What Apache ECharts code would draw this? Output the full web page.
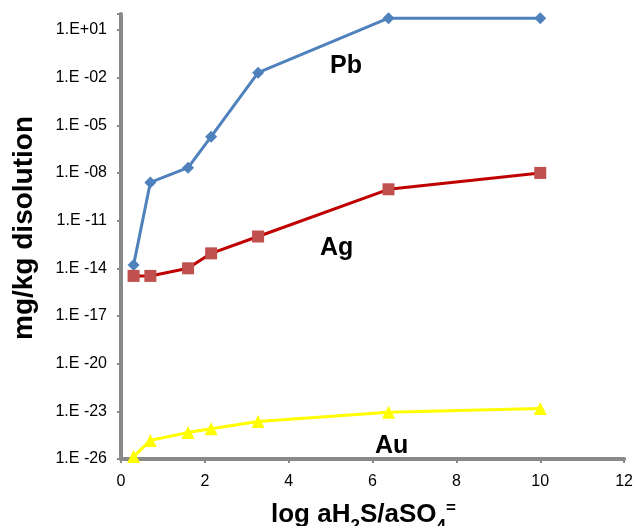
<!DOCTYPE html>
<html>
<head>
<meta charset="utf-8">
<script src="https://cdn.jsdelivr.net/npm/echarts@6/dist/echarts.min.js"></script>
<style>
	html, body { margin: 0; padding: 0; background: #fff; }
	#chart { width: 636px; height: 526px; }
</style>
</head>
<body>
<div id="chart"></div>
<script>
	// x = log aH2S/aSO4
	const xVals = [0.3, 0.7, 1.6, 2.15, 3.27, 6.38, 10]
	// mg/kg disolution, read as powers of ten (1.E-14 -> -14)
	const pbExp = [-13.8, -8.6, -7.67, -5.72, -1.69, 1.74, 1.74]
	const agExp = [-14.48, -14.48, -14.0, -13.06, -12.0, -9.03, -8.0]
	const auExp = [-25.85, -24.83, -24.33, -24.1, -23.64, -23.06, -22.83]

	const toPairs = (ys) => xVals.map((x, i) => [x, ys[i]])

	const fmtY = (v) => {
		const e = Math.round(v)
		if (e > 1) return ''
		const n = String(Math.abs(e)).padStart(2, '0')
		return e >= 0 ? '1.E+' + n : '1.E -' + n
	}

	const axisGrey = '#898989'
	const font = 'Liberation Sans, Arial, Helvetica, sans-serif'

	const option = {
		animation: false,
		grid: { left: 121, right: 11, top: 14, bottom: 67 },
		xAxis: {
			type: 'value',
			min: 0,
			max: 12,
			interval: 2,
			axisLine: { onZero: false, lineStyle: { color: axisGrey, width: 4 } },
			axisTick: { show: true, length: 4, lineStyle: { color: axisGrey, width: 2 } },
			splitLine: { show: false },
			axisLabel: { color: '#000', fontSize: 16, fontFamily: font, margin: 15 }
		},
		yAxis: {
			type: 'value',
			min: -26,
			max: 2,
			interval: 3,
			axisLine: { show: true, onZero: false, lineStyle: { color: axisGrey, width: 4 } },
			axisTick: { show: true, length: 4, lineStyle: { color: axisGrey, width: 2 } },
			splitLine: { show: false },
			axisLabel: { color: '#000', fontSize: 16, fontFamily: font, margin: 14, formatter: fmtY }
		},
		series: [
			{
				name: 'Pb',
				type: 'line',
				data: toPairs(pbExp),
				symbol: 'diamond',
				symbolSize: 12,
				lineStyle: { color: '#4F81BD', width: 3 },
				itemStyle: { color: '#4F81BD' }
			},
			{
				name: 'Ag',
				type: 'line',
				data: toPairs(agExp),
				symbol: 'rect',
				symbolSize: 12,
				lineStyle: { color: '#C00000', width: 3 },
				itemStyle: { color: '#C0504D' }
			},
			{
				name: 'Au',
				type: 'line',
				data: toPairs(auExp),
				symbol: 'triangle',
				symbolSize: 13,
				lineStyle: { color: '#FFFF00', width: 3 },
				itemStyle: { color: '#FFFF00' }
			}
		],
		graphic: [
			{
				type: 'text', left: 330, top: 54,
				style: { text: 'Pb', font: 'bold 25px ' + font, fill: '#000' }
			},
			{
				type: 'text', left: 320, top: 236,
				style: { text: 'Ag', font: 'bold 25px ' + font, fill: '#000' }
			},
			{
				type: 'text', left: 375, top: 434,
				style: { text: 'Au', font: 'bold 25px ' + font, fill: '#000' }
			},
			{
				type: 'text', left: 10, top: 116, rotation: Math.PI / 2,
				style: { text: 'mg/kg disolution', font: 'bold 28px ' + font, fill: '#000' }
			},
			{
				type: 'text', left: 271, top: 500,
				style: {
					text: '{n|log aH}{s|2}{n|S/aSO}{s|4}{p|=}',
					rich: {
						n: { font: 'bold 26px ' + font, fill: '#000', verticalAlign: 'bottom' },
						s: { font: 'bold 17px ' + font, fill: '#000', padding: [0, 0, -7, 0], verticalAlign: 'bottom' },
						p: { font: 'bold 17px ' + font, fill: '#000', padding: [0, 0, 11, 0], verticalAlign: 'bottom' }
					}
				}
			}
		]
	}

	let chart = echarts.init(document.getElementById('chart'))
	chart.setOption(option)
	window.onresize = () => {
		chart.resize()
	}
</script>
</body>
</html>
